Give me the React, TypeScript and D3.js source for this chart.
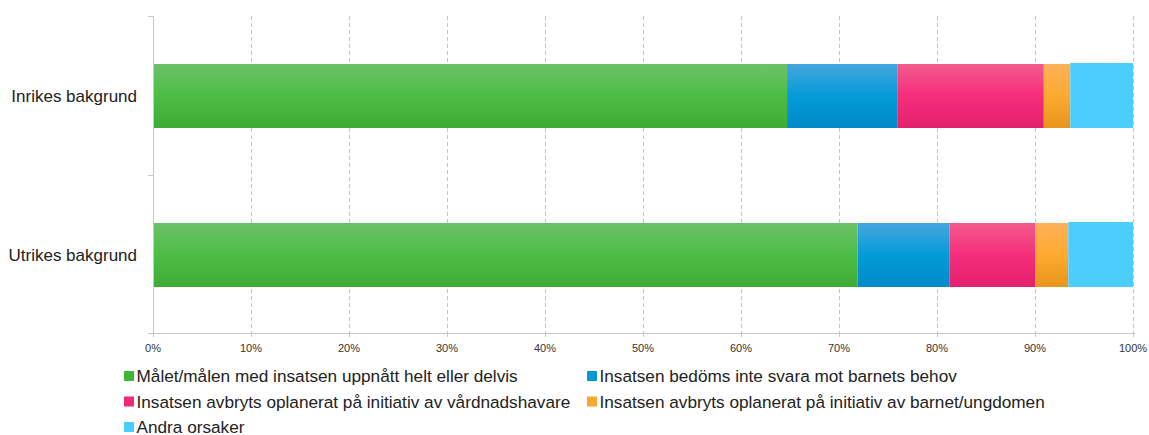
import React from "react";
import * as d3 from "d3";

const categories = ["Inrikes bakgrund", "Utrikes bakgrund"];
const seriesNames = [
  "Målet/målen med insatsen uppnått helt eller delvis",
  "Insatsen bedöms inte svara mot barnets behov",
  "Insatsen avbryts oplanerat på initiativ av vårdnadshavare",
  "Insatsen avbryts oplanerat på initiativ av barnet/ungdomen",
  "Andra orsaker",
];
// share (%) per category, in series order
const malUppnatt = [64.7, 71.9];
const svararInte = [11.3, 9.4];
const vardnadshavare = [14.9, 8.7];
const barnet = [2.7, 3.4];
const andra = [6.4, 6.6];
const xTicks = [0, 10, 20, 30, 40, 50, 60, 70, 80, 90, 100];

const seriesValues = [malUppnatt, svararInte, vardnadshavare, barnet, andra];

// [top, middle, bottom] colour stops per series
const gradients = [
  ["#6cc266", "#4dbc47", "#3fab37"],
  ["#45a6de", "#049bd9", "#008bc7"],
  ["#f35a8d", "#f52e7c", "#e3206d"],
  ["#fdb159", "#fea930", "#e8951c"],
  ["#4bcdfe", "#4bcdfe", "#4bcdfe"],
];
const legendColors = ["#3fb53a", "#0b96d6", "#ee2a78", "#fba532", "#4bcdfe"];

const W = 1149;
const H = 435;
const left = 153;
const right = 1133;
const top = 16;
const bottom = 333;

export default function App() {
  const x = d3.scaleLinear().domain([0, 100]).range([left, right]);
  const y = d3
    .scaleBand<string>()
    .domain(categories)
    .range([top, bottom])
    .paddingInner(0.6)
    .paddingOuter(0.3);

  const rows = categories.map((c, i) => {
    const vals = seriesValues.map((s) => s[i]);
    let acc = 0;
    return vals.map((v, k) => {
      const x0 = acc;
      acc += v;
      return { cat: c, k, x0, x1: k === vals.length - 1 ? 100 : acc };
    });
  });

  const boundaries = [top, (top + bottom) / 2, bottom];

  const font = "'Liberation Sans', Arial, sans-serif";

  const legendItems = seriesNames.map((n, i) => ({
    name: n,
    col: i % 2,
    row: Math.floor(i / 2),
    color: legendColors[i],
  }));

  return (
    <svg width={W} height={H} style={{ position: "absolute", left: 0, top: 0 }}>
      <defs>
        {gradients.map((g, i) => (
          <linearGradient key={i} id={`g${i}`} x1="0" y1="0" x2="0" y2="1">
            <stop offset="0%" stopColor={g[0]} />
            <stop offset="50%" stopColor={g[1]} />
            <stop offset="100%" stopColor={g[2]} />
          </linearGradient>
        ))}
      </defs>
      <rect width={W} height={H} fill="#fff" />

      {/* vertical gridlines */}
      {xTicks.slice(1).map((t) => (
        <line
          key={t}
          x1={Math.round(x(t)) + 0.5}
          x2={Math.round(x(t)) + 0.5}
          y1={top}
          y2={bottom}
          stroke="#c4c4c4"
          strokeDasharray="4,3"
        />
      ))}

      {/* bars */}
      {rows.map((segs, ri) =>
        segs.map((s) => {
          const last = s.k === seriesNames.length - 1;
          const by = Math.round(y(s.cat)!) + ri;
          return (
            <rect
              key={s.cat + s.k}
              x={x(s.x0)}
              y={by - (last ? 1 : 0)}
              width={x(s.x1) - x(s.x0)}
              height={64 + (last ? 1 : 0)}
              fill={`url(#g${s.k})`}
            />
          );
        })
      )}

      {/* axes */}
      <line x1={left + 0.5} x2={left + 0.5} y1={top} y2={bottom} stroke="#c8c8c8" />
      {boundaries.map((b, i) => (
        <line key={i} x1={left - 5} x2={left + 0.5} y1={Math.round(b) + 0.5} y2={Math.round(b) + 0.5} stroke="#c8c8c8" />
      ))}
      <line x1={left - 5} x2={right + 2} y1={bottom + 0.5} y2={bottom + 0.5} stroke="#c8c8c8" />
      {xTicks.map((t) => (
        <g key={t}>
          <line x1={Math.round(x(t)) + 0.5} x2={Math.round(x(t)) + 0.5} y1={bottom} y2={bottom + 4} stroke="#c8c8c8" />
          <text x={x(t)} y={352} textAnchor="middle" fontFamily={font} fontSize={11} fill="#333">
            {t}%
          </text>
        </g>
      ))}

      {/* category labels */}
      {categories.map((c, ri) => (
        <text
          key={c}
          x={137}
          y={Math.round(y(c)!) + ri + 38}
          textAnchor="end"
          fontFamily={font}
          fontSize={17}
          fill="#222"
        >
          {c}
        </text>
      ))}

      {/* legend */}
      {legendItems.map((it) => {
        const lx = it.col === 0 ? 124 : 587;
        const ly = 382 + it.row * 25.5;
        return (
          <g key={it.name}>
            <rect x={lx} y={ly - 11} width={10} height={10} fill={it.color} />
            <text x={lx + 12.5} y={ly} fontFamily={font} fontSize={17.2} fill="#222">
              {it.name}
            </text>
          </g>
        );
      })}
    </svg>
  );
}
